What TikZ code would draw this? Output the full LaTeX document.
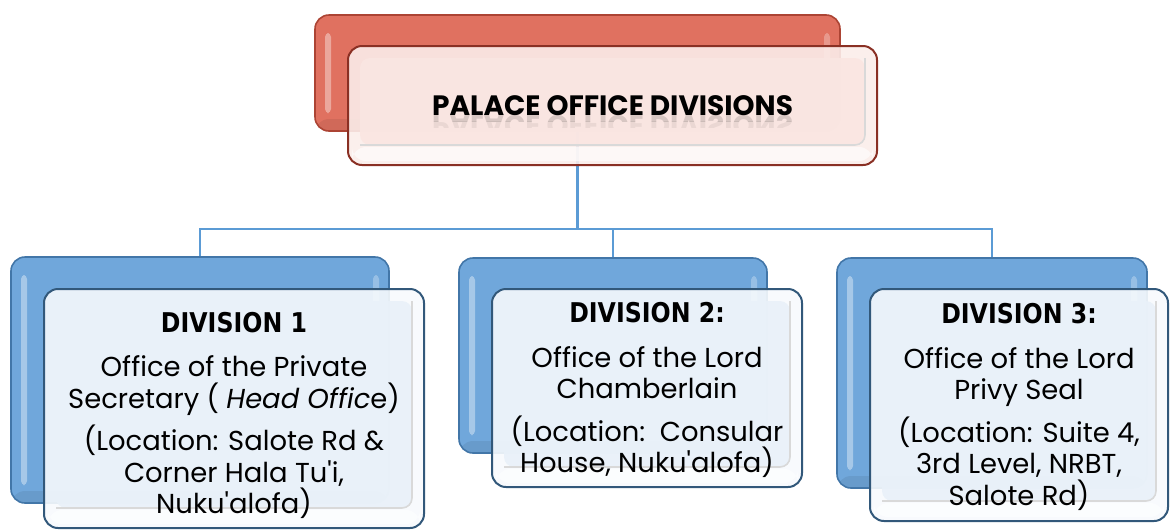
\documentclass[tikz,border=0pt]{standalone}
\usepackage{fontspec}
\setmainfont{Poppins}
\newfontfamily\headfont{DejaVu Sans}[FakeStretch=0.87]
\newcommand{\apos}{\textquotesingle}
% keep a fixed baseline distance even around tall parentheses
\setlength{\lineskiplimit}{-20pt}

\definecolor{conn}{RGB}{91,155,213}
\definecolor{blueback}{RGB}{112,167,219}
\definecolor{blueedge}{RGB}{66,118,168}
\definecolor{frontedge}{RGB}{50,88,122}
\definecolor{fronttop}{RGB}{233,241,249}
\definecolor{frontbot}{RGB}{247,250,253}
\definecolor{redback}{RGB}{224,113,96}
\definecolor{rededge}{RGB}{172,68,52}
\definecolor{pinkfront}{RGB}{251,237,234}
\definecolor{pinkinner}{RGB}{250,230,226}
\definecolor{pinkedge}{RGB}{138,48,36}

\tikzset{
  x=0.5pt, y=-0.5pt,
  conline/.style={draw=conn, line width=1.4pt},
  % glossy back plate with soft bright strips along both sides
  plate/.style 2 args={rounded corners=7pt, fill=#1, draw=#2, line width=0.8pt,
    inner sep=0pt,
    path picture={
      \fill[white, opacity=0.38, rounded corners=2pt]
        ([xshift=5pt,yshift=-9pt]path picture bounding box.north west) rectangle
        ([xshift=8pt,yshift=9pt]path picture bounding box.south west);
      \fill[white, opacity=0.28, rounded corners=2pt]
        ([xshift=-8pt,yshift=-9pt]path picture bounding box.north east) rectangle
        ([xshift=-5pt,yshift=9pt]path picture bounding box.south east);
      \fill[black, opacity=0.07]
        ([yshift=6pt]path picture bounding box.south west) rectangle
        (path picture bounding box.south east);
    }},
  % translucent front card with a bevelled inner panel
  card/.style n args={4}{rounded corners=7pt, fill=#3, fill opacity=0.9,
    text opacity=1, draw=#1, draw opacity=1, line width=1pt, inner sep=0pt,
    align=center,
    path picture={
      \fill[#2, rounded corners=5pt]
        ([shift={(6pt,-6pt)}]path picture bounding box.north west) rectangle
        ([shift={(-6pt,10pt)}]path picture bounding box.south east);
      \draw[black!15, line width=0.8pt, rounded corners=5pt]
        ([shift={(6pt,10pt)}]path picture bounding box.south west) --
        ([shift={(-6pt,10pt)}]path picture bounding box.south east) --
        ([shift={(-6pt,-6pt)}]path picture bounding box.north east);
      \fill[#4, opacity=0.6]
        ([shift={(2pt,2pt)}]path picture bounding box.south west) rectangle
        ([shift={(-2pt,9pt)}]path picture bounding box.south east);
    }},
  bluecard/.style={card={frontedge}{fronttop}{frontbot}{white}},
  redcard/.style={card={pinkedge}{pinkinner}{pinkfront}{white}},
  bodytext/.style={align=center, inner sep=0pt,
    font=\fontsize{13.7}{15.6}\selectfont},
  titletext/.style={font=\bfseries\fontsize{14}{15}\selectfont},
}
\newcommand{\divhead}[1]{{\headfont\bfseries\fontsize{13.6}{15.5}\selectfont #1}}

\begin{document}
\begin{tikzpicture}
\useasboundingbox (0,0) rectangle (1170,531);

% back plates
\node[plate={redback}{rededge}, minimum width=262.5pt, minimum height=58pt]
  (topback) at (577.5,73) {};
\node[plate={blueback}{blueedge}, minimum width=189pt, minimum height=123pt]
  (d1back) at (200,380) {};
\node[plate={blueback}{blueedge}, minimum width=154pt, minimum height=97.5pt]
  (d2back) at (613,355.5) {};
\node[plate={blueback}{blueedge}, minimum width=155pt, minimum height=115pt]
  (d3back) at (992,373) {};

% connectors
\coordinate (bus) at (577.5,229);
\draw[conline] (topback.south) -- (bus);
\draw[conline] (d1back.north) |- (bus) -| (d3back.north);
\draw[conline] (bus -| d2back.north) -- (d2back.north);

% front cards
\node[redcard, minimum width=264.5pt, minimum height=59.5pt, titletext]
  (topfront) at (612.5,105.5) {PALACE OFFICE DIVISIONS};
% faint mirrored echo of the title, fading downwards
\begin{scope}
  \clip (360,115.5) rectangle (860,121);
  \node[titletext, yscale=-1, anchor=base, text opacity=0.13, inner sep=0pt]
    (echoa) at (612.5,115.5) {PALACE OFFICE DIVISIONS};
\end{scope}
\begin{scope}
  \clip (360,121) rectangle (860,127);
  \node[titletext, yscale=-1, anchor=base, text opacity=0.06, inner sep=0pt]
    (echob) at (612.5,115.5) {PALACE OFFICE DIVISIONS};
\end{scope}

\node[bluecard, minimum width=190pt, minimum height=119.5pt]
  (d1front) at (234,408.5) {};
\node[bluecard, minimum width=155pt, minimum height=99pt]
  (d2front) at (647,388) {};
\node[bluecard, minimum width=149pt, minimum height=116pt]
  (d3front) at (1019,405) {};

% card texts
\node[bodytext] (d1text) at ([yshift=-3.3pt]d1front.center)
  {\divhead{DIVISION 1}\\[6.8pt]
   Office of the Private\\
   Secretary ( \textit{Head Offic}e)\\[5.8pt]
   (Location: Salote Rd \&\\
   Corner Hala Tu\apos i,\\
   Nuku\apos alofa)};

\node[bodytext] (d2text) at ([yshift=-1pt]d2front.center)
  {\divhead{DIVISION 2:}\\[6.8pt]
   Office of the Lord\\
   Chamberlain\\[5.8pt]
   (Location:\ \ Consular\\
   House, Nuku\apos alofa)};

\node[bodytext] (d3text) at ([yshift=-1pt]d3front.center)
  {\divhead{DIVISION 3:}\\[6.8pt]
   Office of the Lord\\
   Privy Seal\\[5.8pt]
   (Location: Suite 4,\\
   3rd Level, NRBT,\\
   Salote Rd)};
\end{tikzpicture}
\end{document}
